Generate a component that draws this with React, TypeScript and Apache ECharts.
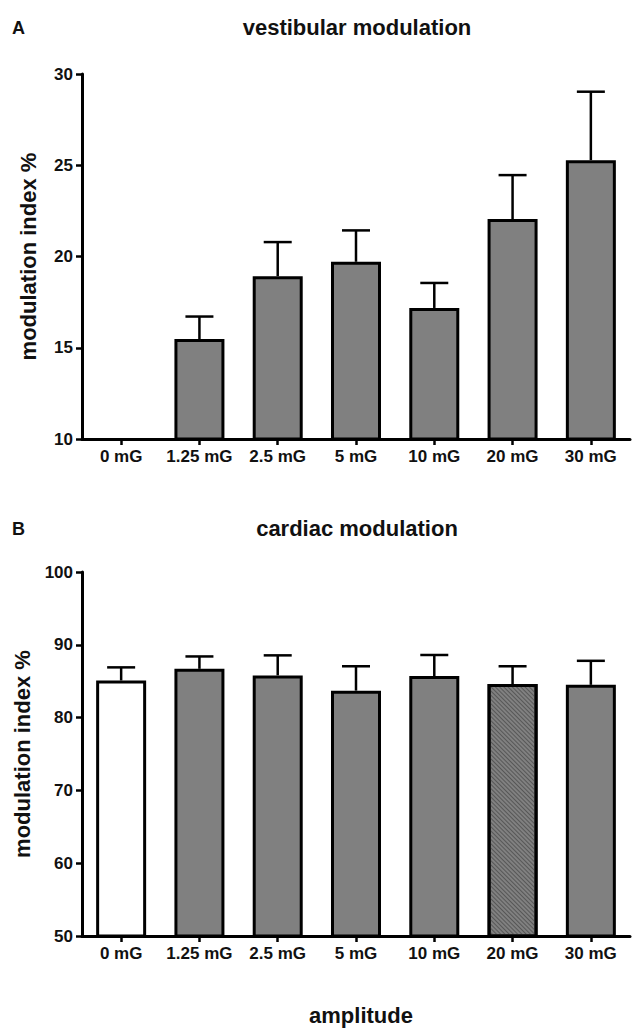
import React, { useEffect, useRef } from "react";
import * as echarts from "echarts";

const categories = ["0 mG", "1.25 mG", "2.5 mG", "5 mG", "10 mG", "20 mG", "30 mG"];

// Panel A: vestibular modulation (mean, upper end of error bar)
const vestMean: (number | null)[] = [null, 15.48, 18.92, 19.71, 17.18, 22.05, 25.28];
const vestUpper: (number | null)[] = [null, 16.71, 20.79, 21.43, 18.55, 24.46, 29.03];

// Panel B: cardiac modulation
const cardMean = [85.1, 86.7, 85.8, 83.7, 85.7, 84.6, 84.5];
const cardUpper = [86.9, 88.4, 88.55, 87.05, 88.6, 87.05, 87.8];

const vestTicks = { min: 10, max: 30, interval: 5 };
const cardTicks = { min: 50, max: 100, interval: 10 };

const FONT = "'Liberation Sans', Arial, Helvetica, sans-serif";

export default function App() {
  const ref = useRef<HTMLDivElement>(null);

  useEffect(() => {
    document.body.style.margin = "0";
    if (!ref.current) return;
    const chart = echarts.init(ref.current, null, { renderer: "svg" });

    const axisLine = { show: true, lineStyle: { color: "#000", width: 3 } };
    const axisTick = { show: true, length: 6, lineStyle: { color: "#000", width: 2.5 } };
    const labelStyle = { color: "#111", fontFamily: FONT, fontWeight: "bold" as const, fontSize: 17 };

    const errRender = (params: any, api: any) => {
      const x = api.value(0);
      const m = api.value(1);
      const u = api.value(2);
      if (m == null || u == null || isNaN(m) || isNaN(u)) return null;
      const p1 = api.coord([x, m]);
      const p2 = api.coord([x, u]);
      const style = { stroke: "#000", lineWidth: 2.5 };
      return {
        type: "group",
        children: [
          { type: "line", shape: { x1: p1[0], y1: p1[1], x2: p2[0], y2: p2[1] }, style },
          { type: "line", shape: { x1: p2[0] - 14, y1: p2[1], x2: p2[0] + 14, y2: p2[1] }, style },
        ],
      };
    };

    const barBorder = { borderColor: "#000", borderWidth: 3 };

    const cardData = cardMean.map((v, i) => {
      if (i === 0) return { value: v, itemStyle: { color: "#ffffff", ...barBorder } };
      if (i === 5)
        return {
          value: v,
          itemStyle: {
            color: "#808080",
            ...barBorder,
            decal: {
              symbol: "rect",
              symbolSize: 1,
              dashArrayX: [1, 0],
              dashArrayY: [1, 1.5],
              rotation: Math.PI / 4,
              color: "rgba(70,70,70,0.7)",
            },
          },
        };
      return { value: v, itemStyle: { color: "#808080", ...barBorder } };
    });

    const yAxisCommon = {
      type: "value" as const,
      nameLocation: "middle" as const,
      name: "modulation index %",
      nameGap: 43,
      nameTextStyle: { color: "#111", fontFamily: FONT, fontWeight: "bold" as const, fontSize: 22 },
      axisLine,
      axisTick,
      axisLabel: { ...labelStyle, margin: 9 },
      splitLine: { show: false },
    };

    const xAxisCommon = {
      type: "category" as const,
      data: categories,
      axisLine,
      axisTick: { ...axisTick, alignWithLabel: true, interval: 0 },
      axisLabel: { ...labelStyle, margin: 9, interval: 0 },
      splitLine: { show: false },
    };

    const titleStyle = { fontFamily: FONT, fontWeight: "bold" as const, fontSize: 22, color: "#111" };
    const letterStyle = { fontFamily: FONT, fontWeight: "bold" as const, fontSize: 18, color: "#111" };

    chart.setOption({
      animation: false,
      backgroundColor: "#ffffff",
      title: [
        { text: "A", left: 7, top: 14, textStyle: letterStyle },
        { text: "vestibular modulation", left: 352, top: 11, textAlign: "center", textStyle: titleStyle },
        { text: "B", left: 7, top: 515, textStyle: letterStyle },
        { text: "cardiac modulation", left: 352, top: 512, textAlign: "center", textStyle: titleStyle },
        { text: "amplitude", left: 356, top: 999, textAlign: "center", textStyle: titleStyle },
      ],
      grid: [
        { left: 82, top: 74, width: 548, height: 365 },
        { left: 82, top: 572, width: 548, height: 364 },
      ],
      xAxis: [
        { ...xAxisCommon, gridIndex: 0 },
        { ...xAxisCommon, gridIndex: 1 },
      ],
      yAxis: [
        { ...yAxisCommon, gridIndex: 0, ...vestTicks },
        { ...yAxisCommon, gridIndex: 1, ...cardTicks },
      ],
      series: [
        {
          type: "custom",
          xAxisIndex: 0,
          yAxisIndex: 0,
          z: 1,
          renderItem: errRender,
          data: categories.map((_, i) => [i, vestMean[i] ?? NaN, vestUpper[i] ?? NaN]),
        },
        {
          type: "bar",
          xAxisIndex: 0,
          yAxisIndex: 0,
          z: 2,
          barWidth: 50,
          data: vestMean.map((v) => (v == null ? "-" : v)),
          itemStyle: { color: "#808080", ...barBorder },
        },
        {
          type: "custom",
          xAxisIndex: 1,
          yAxisIndex: 1,
          z: 1,
          renderItem: errRender,
          data: categories.map((_, i) => [i, cardMean[i], cardUpper[i]]),
        },
        {
          type: "bar",
          xAxisIndex: 1,
          yAxisIndex: 1,
          z: 2,
          barWidth: 50,
          data: cardData,
        },
      ],
    });

    return () => chart.dispose();
  }, []);

  return <div ref={ref} style={{ width: 641, height: 1028 }} />;
}
